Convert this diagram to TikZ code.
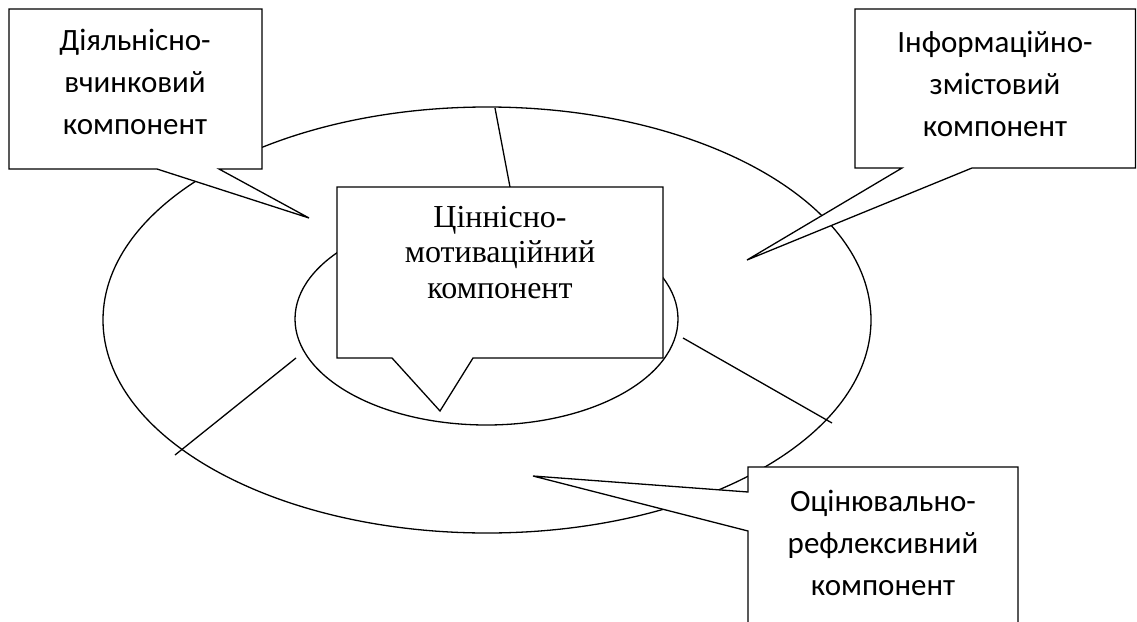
\documentclass[tikz,border=0pt]{standalone}
\usepackage{fontspec}
\setmainfont{Liberation Serif}
\newfontfamily\calib{Carlito}
\begin{document}
\begin{tikzpicture}[x=1pt,y=-1pt,
  ln/.style={line width=1.3pt,line join=miter},
  callout/.style={ln,fill=white},
  sidetext/.style={anchor=base,align=center,inner sep=0pt,
    font=\calib\fontsize{31}{42}\selectfont},
  maintext/.style={anchor=base,align=center,inner sep=0pt,
    font=\fontsize{32}{35.5}\selectfont}]
\useasboundingbox (0,0) rectangle (1137,621);
\clip (0,0) rectangle (1137,621);
% ellipses
\draw[ln] (487,320) ellipse [x radius=384, y radius=213];
\draw[ln] (486.5,319) ellipse [x radius=191.5, y radius=106];
% radial separators
\coordinate (t1) at (495,108); \coordinate (t2) at (510,187);
\coordinate (l1) at (296,358); \coordinate (l2) at (175,455);
\coordinate (r1) at (683,338); \coordinate (r2) at (832,423);
\draw[ln] (t1) -- (t2);
\draw[ln] (l1) -- (l2);
\draw[ln] (r1) -- (r2);
% callouts
\draw[callout] (9,9) -- (262,9) -- (262,169) -- (219,169) -- (309,218) -- (157,169) -- (9,169) -- cycle;
\draw[callout] (855,9) -- (1135.5,9) -- (1135.5,168) -- (972,168) -- (747,260) -- (902,168) -- (855,168) -- cycle;
\draw[callout] (337,187) -- (663,187) -- (663,358) -- (473,358) -- (440,411) -- (392,358) -- (337,358) -- cycle;
\draw[callout] (748,467) -- (1018,467) -- (1018,640) -- (748,640) -- (748,531) -- (533,476) -- (748,492) -- cycle;
% texts (anchored at the last line's baseline)
\node[sidetext] (tl) at (135,134) {Діяльнісно-\\вчинковий\\компонент};
\node[sidetext] (tr) at (995,136) {Інформаційно-\\змістовий\\компонент};
\node[sidetext] (br) at (883,595) {Оцінювально-\\рефлексивний\\компонент};
\node[maintext] (cm) at (500,298) {Ціннісно-\\мотиваційний\\компонент};
\end{tikzpicture}
\end{document}
